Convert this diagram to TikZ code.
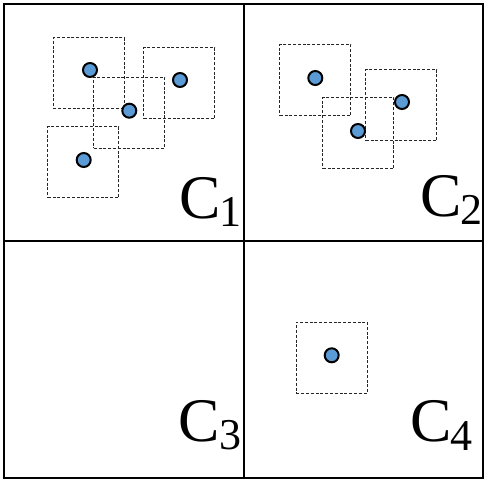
\documentclass[tikz,border=0pt]{standalone}
\usepackage{fontspec}
\setmainfont{Liberation Serif}
\definecolor{dotblue}{HTML}{5B9BD5}
\newcommand{\subdig}[2]{\kern-1pt\raisebox{-#1}{\fontsize{44}{44}\selectfont #2}}
\begin{document}
\begin{tikzpicture}[x=1pt,y=-1pt,
  winbox/.style={draw=black!85, line width=0.8pt, dash pattern=on 3pt off 1.8pt, minimum size=71pt, inner sep=0pt, shape=rectangle},
  pt/.style={circle, draw=black, fill=dotblue, line width=2pt, minimum size=14pt, inner sep=0pt},
  lbl/.style={anchor=base west, inner sep=0pt, font=\fontsize{62}{62}\selectfont}
]
\useasboundingbox (0,0) rectangle (489,481);
% grid
\draw[line width=2.2pt] (3.7,3.7) rectangle (483.3,478);
\draw[line width=1.2pt] (244,3.7) -- (244,478);
\draw[line width=1.2pt] (3.7,241) -- (483.3,241);
% C1 windows
\node[winbox] (b1) at (88.8,73.3) {};
\node[winbox] (b2) at (179.3,83.3) {};
\node[winbox] (b3) at (129.2,112.7) {};
\node[winbox] (b4) at (83.3,162.3) {};
\node[pt] (p1) at (90,70) {};
\node[pt] (p2) at (180,80) {};
\node[pt] (p3) at (129.3,110.7) {};
\node[pt] (p4) at (83.7,160) {};
% C2 windows
\node[winbox] (b5) at (315.3,80.2) {};
\node[winbox] (b6) at (401.2,105.3) {};
\node[winbox] (b7) at (358.2,133.2) {};
\node[pt] (p5) at (315.3,78) {};
\node[pt] (p6) at (402,102) {};
\node[pt] (p7) at (358,131) {};
% C4 window
\node[winbox] (b8) at (331.8,357.7) {};
\node[pt] (p8) at (331.7,355.3) {};
% labels
\node[lbl] (c1) at (179,218.3) {C\subdig{8pt}{1}};
\node[lbl] (c2) at (420,216.7) {C\subdig{8pt}{2}};
\node[lbl] (c3) at (178.5,441.7) {C\subdig{8pt}{3}};
\node[lbl] (c4) at (410,441.7) {C\subdig{9pt}{4}};
\end{tikzpicture}
\end{document}
